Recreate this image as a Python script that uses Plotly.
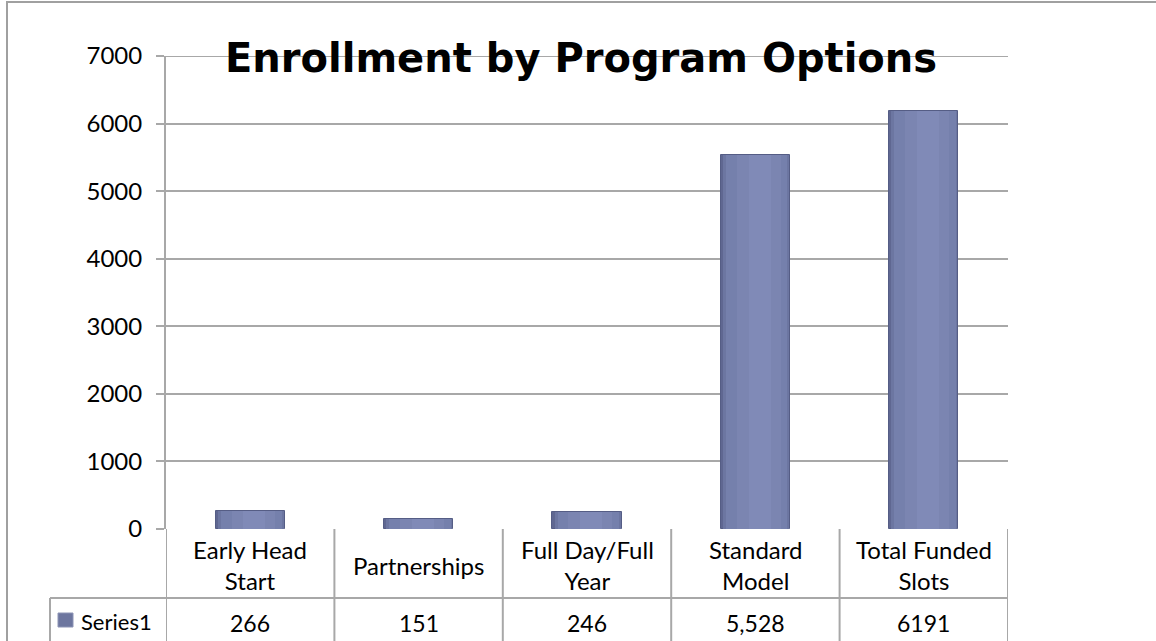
import plotly.graph_objects as go

categories = ["Early Head<br>Start", "Partnerships", "Full Day/Full<br>Year", "Standard<br>Model", "Total Funded<br>Slots"]
values = [266, 151, 246, 5528, 6191]
value_labels = ["266", "151", "246", "5,528", "6191"]
series_name = "Series1"
title_text = "Enrollment by Program Options"
y_ticks = [0, 1000, 2000, 3000, 4000, 5000, 6000, 7000]

W, H = 1156, 641
L, R, T, B = 166, 1008, 56, 529
FONT = "Lato"
GRID = "#a8a8a8"


def px_x(px):
    return (px - L) / (R - L)


def px_y(py):
    return (B - py) / (B - T)


xs = list(range(len(categories)))

fig = go.Figure()
# layered bars to imitate the cylindrical shading
layers = [
    (-0.205, 0.41, "#5f6791", dict(color="#555d85", width=1)),
    (-0.192, 0.392, "#6c76a1", dict(width=0)),
    (-0.175, 0.365, "#7580ac", dict(width=0)),
    (-0.11, 0.26, "#7b85b1", dict(width=0)),
    (-0.04, 0.13, "#808ab7", dict(width=0)),
]
for off, wd, col, ln in layers:
    fig.add_trace(go.Bar(x=xs, y=values, width=wd, offset=off,
                         marker=dict(color=col, line=ln),
                         showlegend=False, hoverinfo="skip"))

shapes = []
line = dict(color=GRID, width=2)
# outer chart border
shapes.append(dict(type="rect", xref="paper", yref="paper",
                   x0=px_x(7), x1=px_x(1170), y0=px_y(660), y1=px_y(2),
                   line=dict(color="#a0a0a0", width=2), layer="below"))
# top gridline at the axis maximum
shapes.append(dict(type="line", xref="paper", yref="y", x0=px_x(158), x1=1,
                   y0=y_ticks[-1], y1=y_ticks[-1], line=line, layer="below"))
# table vertical lines at category boundaries
for i in range(len(categories) + 1):
    shapes.append(dict(type="line", xref="x", yref="paper", x0=i - 0.5, x1=i - 0.5,
                       y0=px_y(529), y1=px_y(660), line=line))
# table row separator
shapes.append(dict(type="line", xref="paper", yref="paper", x0=px_x(50), x1=px_x(1008),
                   y0=px_y(598), y1=px_y(598), line=line))
# series label cell left border
shapes.append(dict(type="line", xref="paper", yref="paper", x0=px_x(50), x1=px_x(50),
                   y0=px_y(598), y1=px_y(660), line=line))
# legend key square
shapes.append(dict(type="rect", xref="paper", yref="paper", x0=px_x(58), x1=px_x(73),
                   y0=px_y(627), y1=px_y(613), fillcolor="#6d769f",
                   line=dict(color="#8d94b5", width=1)))

annotations = []
for i, c in enumerate(categories):
    annotations.append(dict(x=i, y=px_y(565), xref="x", yref="paper", text=c,
                            showarrow=False, xanchor="center", yanchor="middle",
                            font=dict(family=FONT, size=24, color="#000000")))
    annotations.append(dict(x=i, y=px_y(623), xref="x", yref="paper", text=value_labels[i],
                            showarrow=False, xanchor="center", yanchor="middle",
                            font=dict(family=FONT, size=23, color="#000000")))
annotations.append(dict(x=px_x(79), y=px_y(621), xref="paper", yref="paper", text=series_name,
                        showarrow=False, xanchor="left", yanchor="middle",
                        font=dict(family=FONT, size=22, color="#000000")))
annotations.append(dict(x=px_x(581), y=px_y(58), xref="paper", yref="paper", text="<b>" + title_text + "</b>",
                        showarrow=False, xanchor="center", yanchor="middle",
                        font=dict(family="DejaVu Sans", size=40, color="#000000")))

fig.update_layout(
    width=W, height=H,
    margin=dict(l=L, r=W - R, t=T, b=H - B, pad=0),
    paper_bgcolor="white", plot_bgcolor="white",
    barmode="overlay", bargap=0,
    shapes=shapes, annotations=annotations,
    showlegend=False,
    xaxis=dict(range=[-0.5, len(categories) - 0.5], showticklabels=False, ticks="",
               showgrid=False, zeroline=False, showline=False, fixedrange=True),
    yaxis=dict(range=[0, 7000], tickvals=y_ticks, ticktext=[str(v) for v in y_ticks],
               showgrid=True, gridcolor=GRID, gridwidth=2, zeroline=False,
               showline=True, linecolor=GRID, linewidth=2,
               ticks="outside", ticklen=8, tickwidth=2, tickcolor=GRID,
               ticklabelstandoff=9,
               tickfont=dict(family=FONT, size=24, color="#000000"), fixedrange=True),
)

fig.write_html("out.html")
